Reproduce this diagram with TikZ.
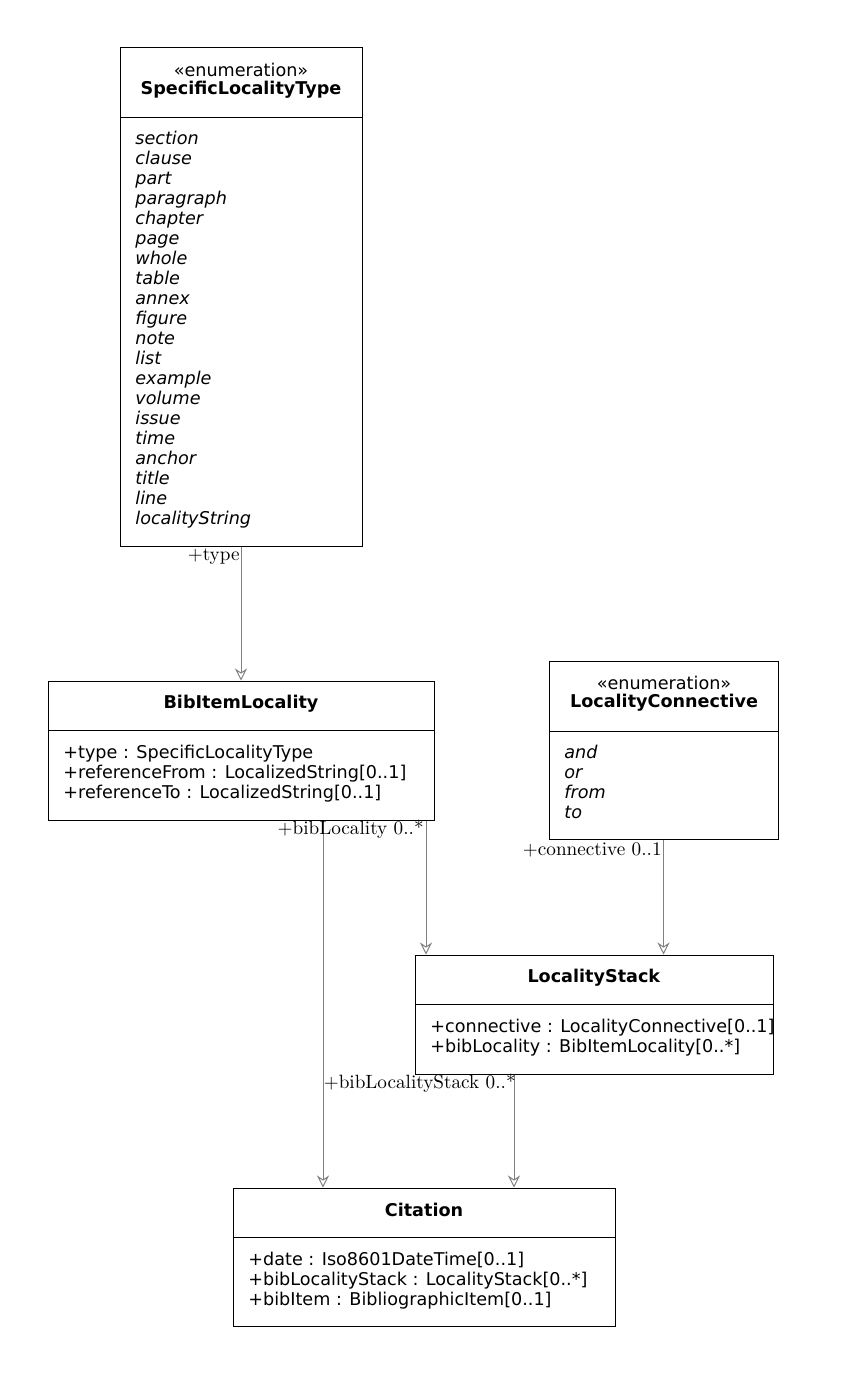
\documentclass[tikz,border=0pt]{standalone}
\usepackage{fontspec}
\setsansfont{DejaVu Sans}
\usetikzlibrary{fit,arrows.meta}
\tikzset{
  umlfont/.style={font=\sffamily\fontsize{8.8}{10}\selectfont},
  umlbox/.style={draw, inner sep=0pt, line width=0.5pt},
  attrs/.style={umlfont, align=left, anchor=north west, inner sep=0pt},
  title/.style={font=\sffamily\fontsize{8.8}{9}\selectfont, align=center, inner sep=0pt},
  assoc/.style={draw=gray, ->, >={Stealth[length=6pt,width=6pt,open]}, line width=0.5pt},
  role/.style={font=\fontsize{9.6}{10}\selectfont, inner sep=0pt}
}
\begin{document}
\begin{tikzpicture}[x=0.5pt,y=-0.5pt]
  \useasboundingbox (0,0) rectangle (849,1375);
  % class boxes
  \node[umlbox, fit={(120,48) (362,546)}] (slt) {};
  \draw (120,117) -- (362,117);
  \node[title] at (241,81) {«enumeration»\\\textbf{SpecificLocalityType}};
  \node[attrs] at (135,131) {\itshape section\\\itshape clause\\\itshape part\\\itshape paragraph\\\itshape chapter\\\itshape page\\\itshape whole\\\itshape table\\\itshape annex\\\itshape figure\\\itshape note\\\itshape list\\\itshape example\\\itshape volume\\\itshape issue\\\itshape time\\\itshape anchor\\\itshape title\\\itshape line\\\itshape localityString};

  \node[umlbox, fit={(48,681) (434,820)}] (bil) {};
  \draw (48,730) -- (434,730);
  \node[title] at (241,704) {\textbf{BibItemLocality}};
  \node[attrs] at (63,745) {+type : SpecificLocalityType\\+referenceFrom : LocalizedString[0..1]\\+referenceTo : LocalizedString[0..1]};

  \node[umlbox, fit={(549,661) (778,839)}] (lc) {};
  \draw (549,731) -- (778,731);
  \node[title] at (664,694) {«enumeration»\\\textbf{LocalityConnective}};
  \node[attrs] at (564,745) {\itshape and\\\itshape or\\\itshape from\\\itshape to};

  \node[umlbox, fit={(415,955) (773,1074)}] (ls) {};
  \draw (415,1004) -- (773,1004);
  \node[title] at (594,978) {\textbf{LocalityStack}};
  \node[attrs] at (430,1019) {+connective : LocalityConnective[0..1]\\+bibLocality : BibItemLocality[0..*]};

  \node[umlbox, fit={(233,1188) (615,1326)}] (cit) {};
  \draw (233,1237) -- (615,1237);
  \node[title] at (424,1210) {\textbf{Citation}};
  \node[attrs] at (248,1252) {+date : Iso8601DateTime[0..1]\\+bibLocalityStack : LocalityStack[0..*]\\+bibItem : BibliographicItem[0..1]};

  % associations
  \coordinate (c1) at (323,0);
  \coordinate (c2) at (426,0);
  \coordinate (c3) at (514,0);
  \draw[assoc] (slt.south) -- (bil.north);
  \node[role, anchor=east] at (240,557) {+type};
  \draw[assoc] (bil.south -| c1) -- (cit.north -| c1);
  \draw[assoc] (bil.south -| c2) -- (ls.north -| c2);
  \node[role, anchor=east] at (424,829) {+bibLocality 0..*};
  \draw[assoc] (lc.south) -- (ls.north -| lc.south);
  \node[role, anchor=east] at (662,850) {+connective 0..1};
  \draw[assoc] (ls.south -| c3) -- (cit.north -| c3);
  \node[role, anchor=east] at (516,1083) {+bibLocalityStack 0..*};
\end{tikzpicture}
\end{document}
